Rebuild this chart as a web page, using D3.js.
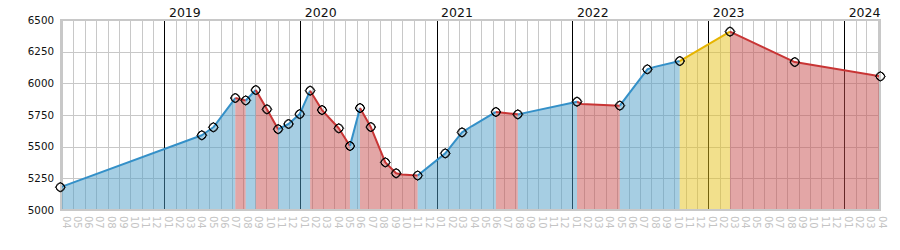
<!DOCTYPE html>
<html>
<head>
<meta charset="utf-8">
<script src="https://cdn.jsdelivr.net/npm/d3@7"></script>
<style>
  html, body { margin: 0; padding: 0; background: #fff; }
  svg { display: block; }
</style>
</head>
<body>
<div id="chart"></div>
<script>
// ---- data ----
const dates = [
  "2018-03-26", "2019-04-10", "2019-05-11", "2019-07-09", "2019-08-06", "2019-09-02",
  "2019-10-02", "2019-11-01", "2019-11-29", "2019-12-29", "2020-01-26", "2020-02-27",
  "2020-04-12", "2020-05-12", "2020-06-08", "2020-07-07", "2020-08-15", "2020-09-13",
  "2020-09-28", "2020-11-10", "2021-01-23", "2021-03-09", "2021-04-05", "2021-06-08",
  "2021-08-06", "2022-01-12", "2022-01-25", "2022-05-07", "2022-07-20", "2022-08-09",
  "2022-10-15", "2023-02-27", "2023-08-20", "2024-04-06"
];
const prices = [
  5180, 5590, 5653, 5884, 5865, 5947,
  5795, 5638, 5679, 5757, 5942, 5789,
  5645, 5505, 5805, 5655, 5376, 5290,
  5280, 5272, 5447, 5613, 5663, 5774,
  5755, 5855, 5837, 5824, 6111, 6130,
  6176, 6408, 6168, 6055
];
const marked = [
  1, 1, 1, 1, 1, 1,
  1, 1, 1, 1, 1, 1,
  1, 1, 1, 1, 1, 1,
  0, 1, 1, 1, 0, 1,
  1, 1, 0, 1, 1, 0,
  1, 1, 1, 1
];
// trend of each segment between consecutive points
const segmentTrend = [
  "up", "up", "up", "down", "up", "down",
  "down", "up", "up", "up", "down", "down",
  "down", "up", "down", "down", "down", "down",
  "down", "up", "up", "up", "up", "down",
  "up", "down", "down", "up", "up", "up",
  "highlight", "down", "down"
];
const yTickValues = [5000, 5250, 5500, 5750, 6000, 6250, 6500];
const axisStart = "2018-04-01";
const axisEnd = "2024-04-01";

// ---- styles ----
const W = 900, H = 250;
const L = 61, R = 880, T = 20, B = 210;
const fillColor = { up: "rgb(77,157,199)", down: "rgb(199,77,77)", highlight: "rgb(229,193,25)" };
const lineColor = { up: "#3490c8", down: "#c83535", highlight: "#e6b400" };
const gridColor = "#c8c8c8";

const parse = d3.timeParse("%Y-%m-%d");
const pts = dates.map((d, i) => ({ date: parse(d), value: prices[i], marked: marked[i] }));

const x = d3.scaleTime().domain([parse(axisStart), parse(axisEnd)]).range([62.6, 878.5]);
const y = d3.scaleLinear().domain([5000, 6500]).range([B, T]);

const svg = d3.select("#chart").append("svg").attr("width", W).attr("height", H)
  .style("font-family", "'DejaVu Sans', Verdana, sans-serif");

svg.append("defs").append("clipPath").attr("id", "plot")
  .append("rect").attr("x", L).attr("y", T).attr("width", R - L).attr("height", B - T);

// grid
const months = d3.timeMonth.range(parse(axisStart), d3.timeDay.offset(parse(axisEnd), 1));
const grid = svg.append("g");
grid.selectAll("line.h").data(yTickValues).join("line")
  .attr("x1", L).attr("x2", R)
  .attr("y1", d => Math.round(y(d)) + 0.5).attr("y2", d => Math.round(y(d)) + 0.5)
  .attr("stroke", gridColor).attr("stroke-width", 1);
grid.selectAll("line.v").data(months).join("line")
  .attr("x1", d => Math.floor(x(d)) + 0.5).attr("x2", d => Math.floor(x(d)) + 0.5)
  .attr("y1", T).attr("y2", B)
  .attr("stroke", d => d.getMonth() === 0 ? "#000" : gridColor).attr("stroke-width", 1);

// group segments into runs of same trend
const runs = [];
segmentTrend.forEach((t, i) => {
  const last = runs[runs.length - 1];
  if (last && last.trend === t) last.pts.push(pts[i + 1]);
  else runs.push({ trend: t, pts: [pts[i], pts[i + 1]] });
});

const plot = svg.append("g").attr("clip-path", "url(#plot)");
const area = d3.area().x(d => x(d.date)).y0(B).y1(d => y(d.value));
const line = d3.line().x(d => x(d.date)).y(d => y(d.value));

plot.selectAll("path.area").data(runs).join("path")
  .attr("d", d => area(d.pts))
  .attr("fill", d => fillColor[d.trend]).attr("fill-opacity", 0.5);

plot.selectAll("path.line").data(runs).join("path")
  .attr("d", d => line(d.pts))
  .attr("fill", "none").attr("stroke", d => lineColor[d.trend])
  .attr("stroke-width", 2).attr("stroke-linejoin", "round");

// frame
svg.append("rect").attr("x", L).attr("y", T).attr("width", R - L).attr("height", B - T)
  .attr("fill", "none").attr("stroke", gridColor).attr("stroke-width", 2);

// markers
const mk = svg.append("g").selectAll("g").data(pts.filter(p => p.marked)).join("g")
  .attr("transform", d => `translate(${x(d.date)},${y(d.value)})`);
mk.append("circle").attr("r", 4.1).attr("fill", "none").attr("stroke", "#000").attr("stroke-width", 1);
mk.append("path").attr("d", "M0,-5L5,0L0,5L-5,0Z").attr("fill", "none").attr("stroke", "#000").attr("stroke-width", 1);

// y labels
svg.append("g").selectAll("text").data(yTickValues).join("text")
  .attr("x", 54).attr("y", d => y(d)).attr("dy", "0.35em")
  .attr("text-anchor", "end").attr("font-size", 10.3).attr("fill", "#111")
  .text(d => d);

// month labels
const fmtM = d3.timeFormat("%m");
svg.append("g").selectAll("text").data(months).join("text")
  .attr("transform", d => `translate(${x(d)},216) rotate(90)`)
  .attr("text-anchor", "start").attr("font-size", 10).attr("fill", "#c4c4c4")
  .text(d => fmtM(d));

// year labels
const years = months.filter(d => d.getMonth() === 0);
svg.append("g").selectAll("text").data(years).join("text")
  .attr("x", d => x(d) + 4).attr("y", 17)
  .attr("font-size", 12.5).attr("fill", "#111")
  .text(d => d.getFullYear());
</script>
</body>
</html>
